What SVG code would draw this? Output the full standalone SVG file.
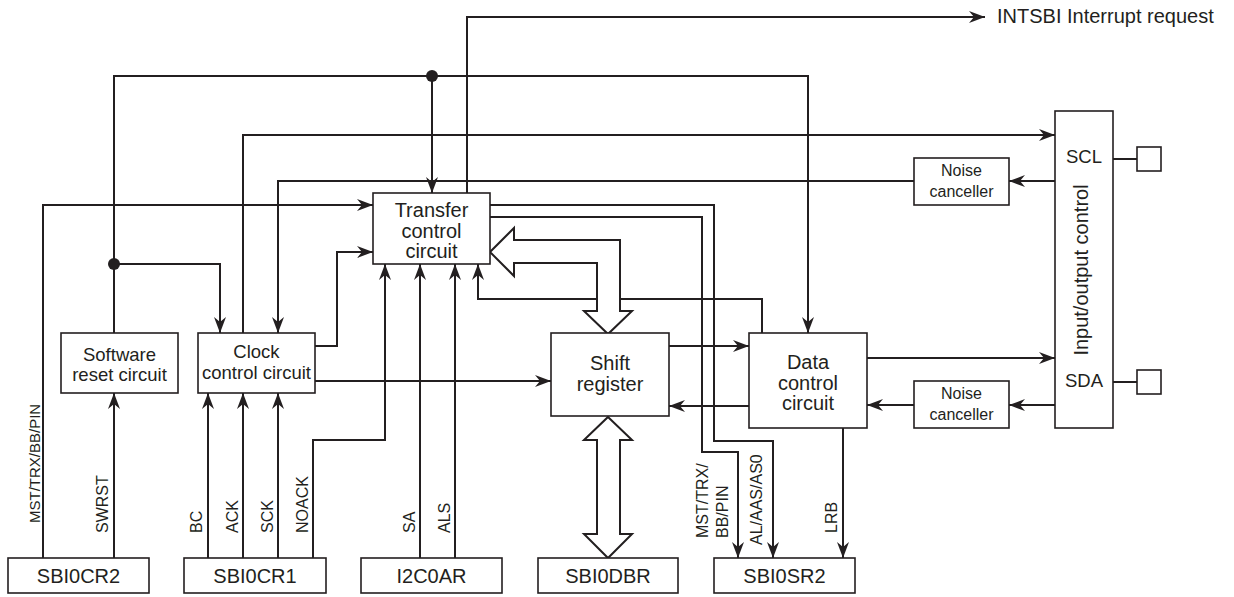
<svg xmlns="http://www.w3.org/2000/svg" width="1234" height="597" viewBox="0 0 1234 597">
<style>
text{font-family:"Liberation Sans",Arial,sans-serif;fill:#231f20}
.box{fill:#fff;stroke:#231f20;stroke-width:1.6}
.ln{fill:none;stroke:#231f20;stroke-width:2}
.hol{fill:#fff;stroke:#231f20;stroke-width:2;stroke-linejoin:miter}
.t20{font-size:20px;text-anchor:middle}
.t19{font-size:18.5px;text-anchor:middle}
.t16{font-size:16px;text-anchor:middle}
.lab{font-size:16px}
</style>
<defs>
<marker id="ar" markerUnits="userSpaceOnUse" markerWidth="16" markerHeight="12" refX="16" refY="6" orient="auto" overflow="visible">
<path d="M0,0 L16,6 L0,12 L5,6 Z" fill="#231f20"/>
</marker>
</defs>

<g id="connectors">
<path class="ln" d="M467,193 V17 H985" marker-end="url(#ar)"/>
<path class="ln" d="M114,333 V76 H808 V333" marker-end="url(#ar)"/>
<path class="ln" d="M432,76 V193" marker-end="url(#ar)"/>
<path class="ln" d="M114,264 H220 V333" marker-end="url(#ar)"/>
<path class="ln" d="M243,333 V135 H1055" marker-end="url(#ar)"/>
<path class="ln" d="M1055,181 H1009" marker-end="url(#ar)"/>
<path class="ln" d="M914,181 H278 V333" marker-end="url(#ar)"/>
<path class="ln" d="M43,558 V205 H373" marker-end="url(#ar)"/>
<path class="ln" d="M315,346 H337 V252 H373" marker-end="url(#ar)"/>
<path class="ln" d="M315,381 H551" marker-end="url(#ar)"/>
<path class="ln" d="M114,558 V393" marker-end="url(#ar)"/>
<path class="ln" d="M208,558 V393" marker-end="url(#ar)"/>
<path class="ln" d="M243,558 V393" marker-end="url(#ar)"/>
<path class="ln" d="M278,558 V393" marker-end="url(#ar)"/>
<path class="ln" d="M313,558 V440 H385 V264" marker-end="url(#ar)"/>
<path class="ln" d="M420,558 V264" marker-end="url(#ar)"/>
<path class="ln" d="M455,558 V264" marker-end="url(#ar)"/>
<path class="ln" d="M762,333 V299 H478 V264" marker-end="url(#ar)"/>
<path class="ln" d="M490,205 H714 V441 H773 V558" marker-end="url(#ar)"/>
<path class="ln" d="M490,217 H702 V452 H738 V558" marker-end="url(#ar)"/>
<path class="ln" d="M669,346 H749" marker-end="url(#ar)"/>
<path class="ln" d="M749,406 H669" marker-end="url(#ar)"/>
<path class="ln" d="M867,358 H1055" marker-end="url(#ar)"/>
<path class="ln" d="M1055,405 H1009" marker-end="url(#ar)"/>
<path class="ln" d="M914,405 H867" marker-end="url(#ar)"/>
<path class="ln" d="M843,428 V558" marker-end="url(#ar)"/>
<path class="ln" d="M1113,159 H1137"/>
<path class="ln" d="M1113,382 H1137"/>
<circle cx="114" cy="264" r="6" fill="#231f20"/>
<circle cx="432" cy="76" r="6" fill="#231f20"/>
<path class="hol" d="M490,252 L514,228 L514,240 L620,240 L620,311 L632,311 L608,334 L584,311 L597,311 L597,263 L514,263 L514,276 Z"/>
<path class="hol" d="M608,417 L632,440 L620,440 L620,534 L632,534 L608,558 L584,534 L597,534 L597,440 L584,440 Z"/>
</g>

<g id="labels">
<text class="lab" style="font-size:15px" transform="translate(40,523) rotate(-90)">MST/TRX/BB/PIN</text>
<text class="lab" transform="translate(108,533) rotate(-90)">SWRST</text>
<text class="lab" transform="translate(202,533) rotate(-90)">BC</text>
<text class="lab" transform="translate(238,533) rotate(-90)">ACK</text>
<text class="lab" transform="translate(273,533) rotate(-90)">SCK</text>
<text class="lab" transform="translate(308,533) rotate(-90)">NOACK</text>
<text class="lab" transform="translate(415,533) rotate(-90)">SA</text>
<text class="lab" transform="translate(450,533) rotate(-90)">ALS</text>
<text class="lab" transform="translate(708,538) rotate(-90)">MST/TRX/</text>
<text class="lab" transform="translate(728,538) rotate(-90)">BB/PIN</text>
<text class="lab" transform="translate(762,545) rotate(-90)">AL/AAS/AS0</text>
<text class="lab" transform="translate(837,533) rotate(-90)">LRB</text>
<text style="font-size:20px" x="997" y="23">INTSBI Interrupt request</text>
</g>

<g id="transfer">
<rect class="box" x="373" y="193" width="117" height="71"/>
<text class="t20" x="431.5" y="217">Transfer</text>
<text class="t20" x="431.5" y="238">control</text>
<text class="t20" x="431.5" y="258">circuit</text>
</g>
<g id="software">
<rect class="box" x="61" y="333" width="117" height="60"/>
<text class="t19" x="119.5" y="361">Software</text>
<text class="t19" x="119.5" y="381">reset circuit</text>
</g>
<g id="clock">
<rect class="box" x="198" y="333" width="117" height="60"/>
<text class="t19" x="256.5" y="358">Clock</text>
<text class="t19" x="256.5" y="379">control circuit</text>
</g>
<g id="shift">
<rect class="box" x="551" y="333" width="118" height="83"/>
<text class="t20" x="610" y="370">Shift</text>
<text class="t20" x="610" y="391">register</text>
</g>
<g id="data">
<rect class="box" x="749" y="333" width="118" height="95"/>
<text class="t20" x="808" y="369">Data</text>
<text class="t20" x="808" y="390">control</text>
<text class="t20" x="808" y="410">circuit</text>
</g>
<g id="noise-scl">
<rect class="box" x="914" y="158" width="95" height="47"/>
<text class="t16" x="961.5" y="176">Noise</text>
<text class="t16" x="961.5" y="197">canceller</text>
</g>
<g id="noise-sda">
<rect class="box" x="914" y="381" width="95" height="47"/>
<text class="t16" x="961.5" y="399">Noise</text>
<text class="t16" x="961.5" y="420">canceller</text>
</g>
<g id="io">
<rect class="box" x="1055" y="111" width="58" height="317"/>
<text class="t19" x="1084" y="163">SCL</text>
<text class="t19" x="1084" y="387">SDA</text>
<text style="font-size:20px;text-anchor:middle" transform="translate(1088,270) rotate(-90)">Input/output control</text>
</g>
<g id="pin-scl"><rect class="box" x="1137" y="147" width="24" height="24"/></g>
<g id="pin-sda"><rect class="box" x="1137" y="370" width="24" height="24"/></g>
<g id="sbi0cr2">
<rect class="box" x="8" y="558" width="141" height="35"/>
<text class="t20" x="78.5" y="583">SBI0CR2</text>
</g>
<g id="sbi0cr1">
<rect class="box" x="184" y="558" width="142" height="35"/>
<text class="t20" x="255" y="583">SBI0CR1</text>
</g>
<g id="i2c0ar">
<rect class="box" x="361" y="558" width="141" height="35"/>
<text class="t20" x="431.5" y="583">I2C0AR</text>
</g>
<g id="sbi0dbr">
<rect class="box" x="538" y="558" width="140" height="35"/>
<text class="t20" x="608" y="583">SBI0DBR</text>
</g>
<g id="sbi0sr2">
<rect class="box" x="714" y="558" width="141" height="35"/>
<text class="t20" x="784.5" y="583">SBI0SR2</text>
</g>
</svg>
